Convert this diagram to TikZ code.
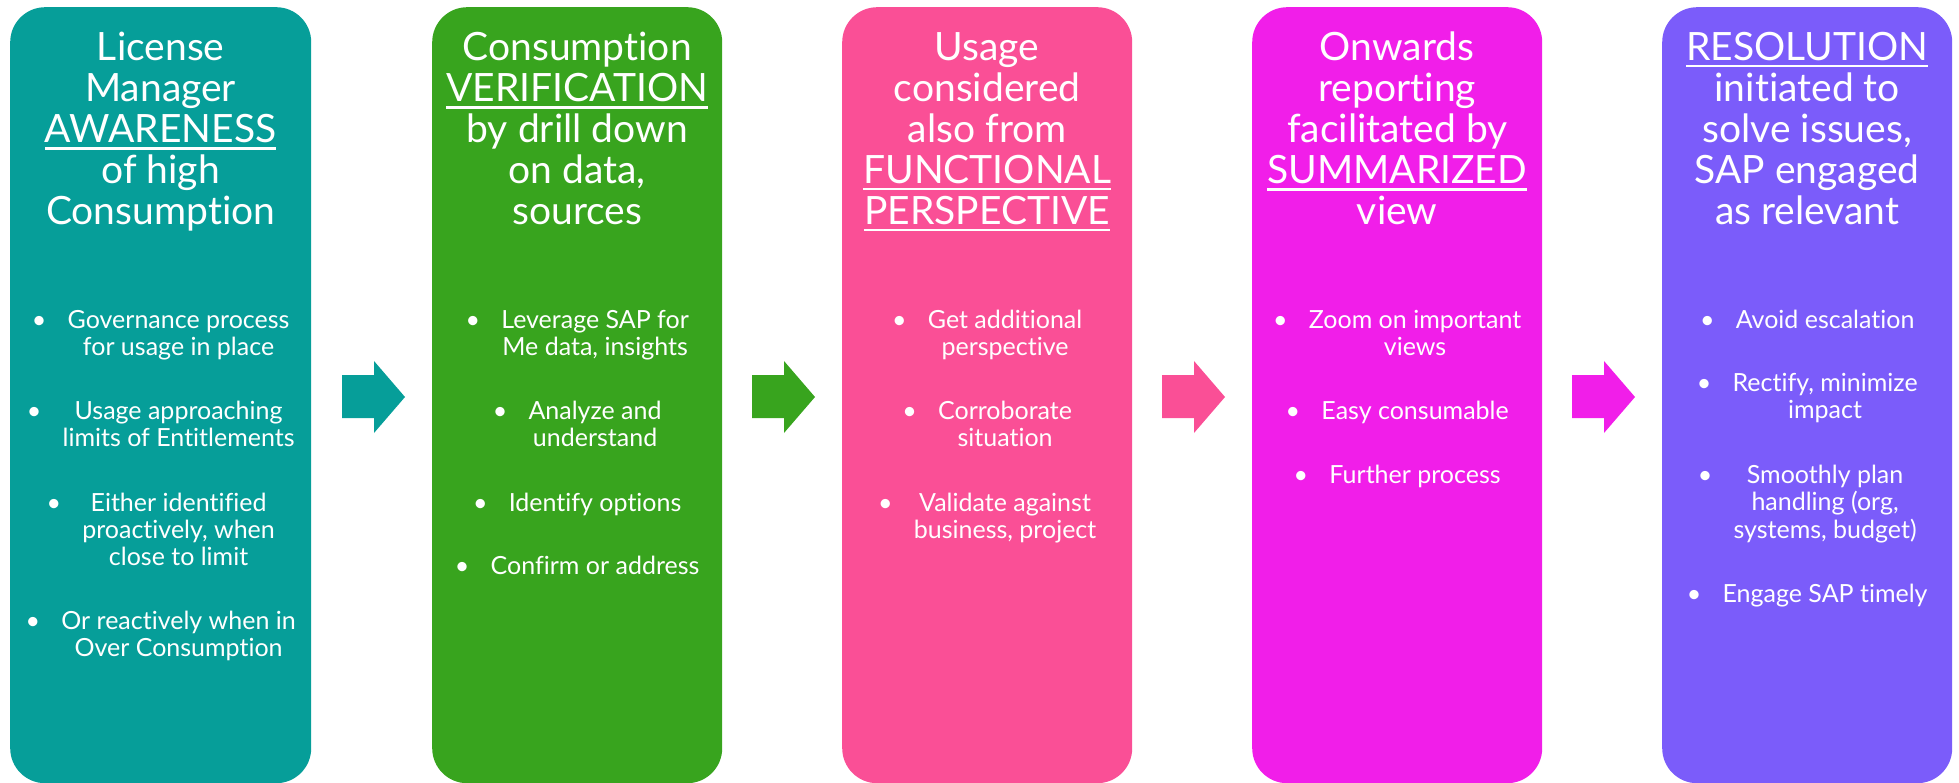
\documentclass[tikz,border=0pt]{standalone}
\usepackage{fontspec}
\setmainfont{Lato}[Ligatures=NoCommon]
\usetikzlibrary{positioning}

\definecolor{sapteal}{HTML}{069E99}
\definecolor{sapgreen}{HTML}{38A41E}
\definecolor{sappink}{HTML}{FA4F96}
\definecolor{sapmagenta}{HTML}{F11EE9}
\definecolor{sappurple}{HTML}{7B5CFA}

% underlined key word
\newcommand\keyword[1]{\setbox0\hbox{#1}\rlap{\rule[-7pt]{\wd0}{2.6pt}}\box0}
% one bullet point, further lines centred under the first
\newcommand\point[1]{\textbullet\hspace{0.85em}\begin{tabular}[t]{@{}c@{}}#1\end{tabular}}

\begin{document}
\begin{tikzpicture}[x=1pt,y=-1pt]
\tikzset{
  stage/.style={fill=#1,draw=none,rounded corners=35pt,inner sep=0pt,minimum width=290pt,minimum height=776pt,anchor=north west},
  heading/.style={text=white,align=center,inner sep=0pt,font=\fontsize{39}{41}\selectfont},
  points/.style={text=white,align=center,inner sep=0pt,font=\fontsize{25}{27}\selectfont},
}
% end of definitions
\useasboundingbox (0,0) rectangle (1959,783);

% the five stages
\node[stage=sapteal,minimum width=301pt] (aware) at (10,7) {};
\node[stage=sapgreen] (verify) at (432,7) {};
\node[stage=sappink] (function) at (842,7) {};
\node[stage=sapmagenta] (summary) at (1252,7) {};
\node[stage=sappurple] (resolve) at (1662,7) {};

% headings
\node[heading,below=25pt of aware.north] (awarehead) {License\\Manager\\\keyword{AWARENESS}\\of high\\Consumption};
\node[heading,below=25pt of verify.north] (verifyhead) {Consumption\\\keyword{VERIFICATION}\\by drill down\\on data,\\sources};
\node[heading,below=25pt of function.north] (functionhead) {Usage\\considered\\also from\\\keyword{FUNCTIONAL}\\\keyword{PERSPECTIVE}};
\node[heading,below=25pt of summary.north] (summaryhead) {Onwards\\reporting\\facilitated by\\\keyword{SUMMARIZED}\\view};
\node[heading,below=25pt of resolve.north] (resolvehead) {\keyword{RESOLUTION}\\initiated to\\solve issues,\\SAP engaged\\as relevant};

% bullet points
\node[points,below=302pt of aware.north] (awarelist) {\point{Governance process\\for usage in place}\\[36.5pt]
  \point{Usage approaching\\limits of Entitlements}\\[36.5pt]
  \point{Either identified\\proactively, when\\close to limit}\\[36.5pt]
  \point{Or reactively when in\\Over Consumption}};
\node[points,below=302pt of verify.north] (verifylist) {\point{Leverage SAP for\\Me data, insights}\\[36.5pt]
  \point{Analyze and\\understand}\\[36.5pt]
  \point{Identify options}\\[36.5pt]
  \point{Confirm or address}};
\node[points,below=302pt of function.north] (functionlist) {\point{Get additional\\perspective}\\[36.5pt]
  \point{Corroborate\\situation}\\[36.5pt]
  \point{Validate against\\business, project}};
\node[points,below=302pt of summary.north] (summarylist) {\point{Zoom on important\\views}\\[36.5pt]
  \point{Easy consumable}\\[36.5pt]
  \point{Further process}};
\node[points,below=302pt of resolve.north] (resolvelist) {\point{Avoid escalation}\\[36.5pt]
  \point{Rectify, minimize\\impact}\\[36.5pt]
  \point{Smoothly plan\\handling (org,\\systems, budget)}\\[36.5pt]
  \point{Engage SAP timely}};

% block arrows between the stages
\foreach \x/\c in {342/sapteal,752/sapgreen,1162/sappink,1572/sapmagenta}
  \fill[\c] (\x,375) -- (\x+32,375) -- (\x+32,361) -- (\x+63,397) -- (\x+32,433) -- (\x+32,418) -- (\x,418) -- cycle;
\end{tikzpicture}
\end{document}
